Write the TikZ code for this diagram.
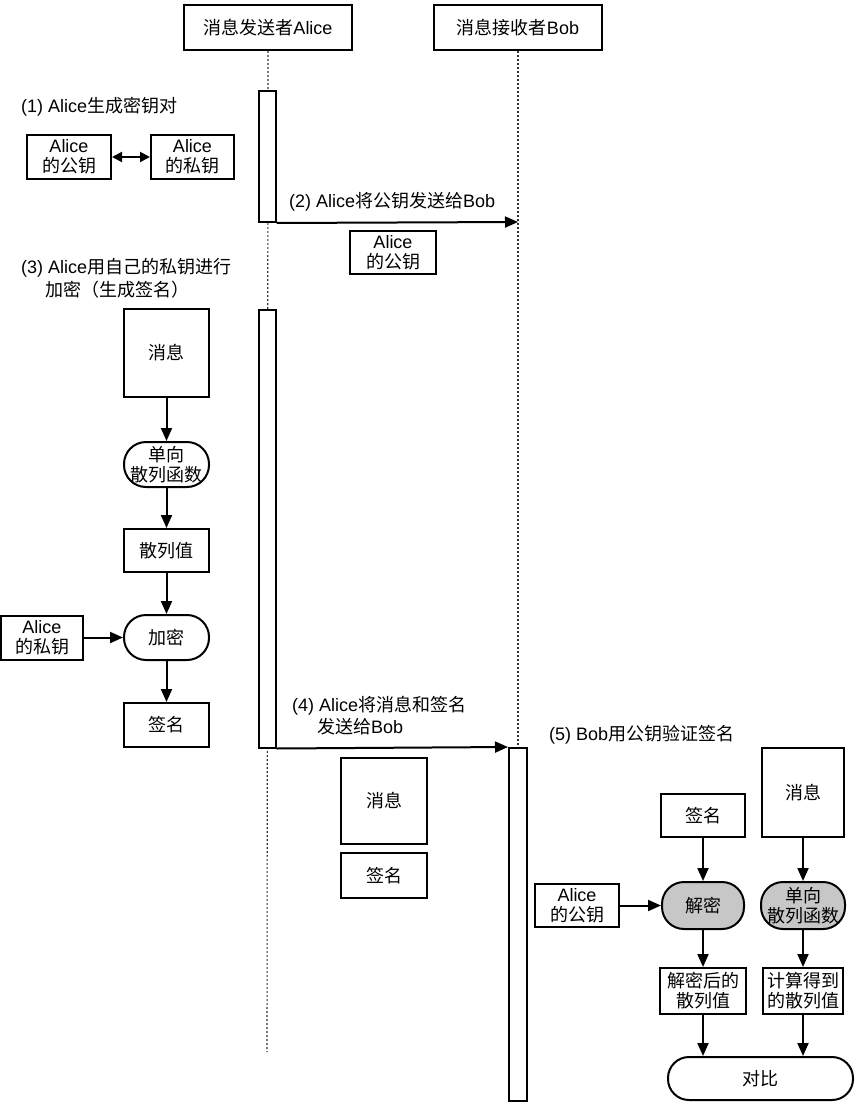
\documentclass[tikz,border=0pt]{standalone}
\usepackage{fontspec}
\setmainfont{Liberation Sans}
\newfontfamily\cjk{Noto Sans CJK SC}
\usetikzlibrary{arrows.meta}
\begin{document}
\begin{tikzpicture}[x=1pt,y=-1pt,
  txt/.style={font=\fontsize{18}{20}\selectfont},
  box/.style={txt, draw, line width=2pt, fill=white, inner sep=2pt, align=center},
  pill/.style={box, rounded corners=22pt},
  gpill/.style={pill, fill=black!22},
  act/.style={draw, line width=2pt, fill=white, minimum width=17pt, inner sep=0pt},
  lbl/.style={txt, inner sep=0pt, anchor=west},
  arr/.style={line width=2pt, -{Triangle[length=13pt,width=11pt]}},
  darr/.style={line width=2pt, {Triangle[length=10pt,width=10pt]}-{Triangle[length=10pt,width=10pt]}},
  life/.style={dash pattern=on 2pt off 2pt, line width=1.1pt, black!80}
]
\useasboundingbox (0,0) rectangle (858,1102);

% headers
\node[box, minimum width=168pt, minimum height=45pt] (hA) at (268,27.5) {{\cjk 消息发送者}Alice};
\node[box, minimum width=168pt, minimum height=45pt] (hB) at (518,27.5) {{\cjk 消息接收者}Bob};

% lifelines
\coordinate (aEnd) at (267,1052);
\coordinate (bMid) at (518,748);
\draw[life] (hA.south) -- (aEnd);
\draw[life] (hB.south) -- (bMid);

% activations
\node[act, minimum height=131pt] (act1) at (267,156.5) {};
\node[act, minimum height=438pt] (act2) at (267,528.5) {};
\node[act, minimum width=18pt, minimum height=353pt] (act3) at (518,924.5) {};

% step 1
\node[lbl] (lab1) at (21,107) {(1) Alice{\cjk 生成密钥对}};
\node[box, minimum width=84pt, minimum height=44pt] (pubA) at (69,157) {Alice\\{\cjk 的公钥}};
\node[box, minimum width=83pt, minimum height=44pt] (privA) at (192.5,157) {Alice\\{\cjk 的私钥}};
\draw[darr] (pubA) -- (privA);

% step 2
\node[lbl] (lab2) at (289,202) {(2) Alice{\cjk 将公钥发送给}Bob};
\coordinate (b2) at (518,222);
\draw[arr] (act1.south east) -- (b2);
\node[box, minimum width=86pt, minimum height=43pt] (pub2) at (393,252.5) {Alice\\{\cjk 的公钥}};

% step 3
\node[lbl] (lab3a) at (21,268) {(3) Alice{\cjk 用自己的私钥进行}};
\node[lbl] (lab3b) at (45,290) {{\cjk 加密（生成签名）}};
\node[box, minimum width=85pt, minimum height=88pt] (msg1) at (166.5,353) {{\cjk 消息}};
\node[pill, minimum width=85pt, minimum height=45pt] (hash1) at (166.5,464.5) {{\cjk 单向}\\{\cjk 散列函数}};
\node[box, minimum width=85pt, minimum height=43pt] (hv1) at (166.5,550.5) {{\cjk 散列值}};
\node[pill, minimum width=85pt, minimum height=45pt] (enc1) at (166.5,637.5) {{\cjk 加密}};
\node[box, minimum width=82pt, minimum height=44pt] (privB) at (42,637.5) {Alice\\{\cjk 的私钥}};
\node[box, minimum width=85pt, minimum height=44pt] (sig1) at (166.5,725) {{\cjk 签名}};
\draw[arr] (msg1) -- (hash1);
\draw[arr] (hash1) -- (hv1);
\draw[arr] (hv1) -- (enc1);
\draw[arr] (privB) -- (enc1);
\draw[arr] (enc1) -- (sig1);

% step 4
\node[lbl] (lab4a) at (292,706) {(4) Alice{\cjk 将消息和签名}};
\node[lbl] (lab4b) at (317,727) {{\cjk 发送给}Bob};
\draw[arr] (act2.south east) -- (act3.north west);
\node[box, minimum width=86pt, minimum height=86pt] (msg2) at (384,801) {{\cjk 消息}};
\node[box, minimum width=86pt, minimum height=45pt] (sig2) at (384,875.5) {{\cjk 签名}};

% step 5
\node[lbl] (lab5) at (549,735) {(5) Bob{\cjk 用公钥验证签名}};
\node[box, minimum width=84pt, minimum height=43pt] (sig3) at (703,815.5) {{\cjk 签名}};
\node[box, minimum width=82pt, minimum height=89pt] (msg3) at (803,792.5) {{\cjk 消息}};
\node[box, minimum width=84pt, minimum height=43pt] (pub3) at (577,905.5) {Alice\\{\cjk 的公钥}};
\node[gpill, minimum width=82pt, minimum height=47pt] (dec) at (703,905.5) {{\cjk 解密}};
\node[gpill, minimum width=84pt, minimum height=47pt] (hash3) at (803,905.5) {{\cjk 单向}\\{\cjk 散列函数}};
\node[box, minimum width=86pt, minimum height=46pt] (dhv) at (703,991) {{\cjk 解密后的}\\{\cjk 散列值}};
\node[box, minimum width=80pt, minimum height=46pt] (chv) at (803,991) {{\cjk 计算得到}\\{\cjk 的散列值}};
\node[pill, rounded corners=21pt, minimum width=185pt, minimum height=43pt] (cmp) at (760.5,1078.5) {{\cjk 对比}};
\draw[arr] (sig3) -- (dec);
\draw[arr] (msg3) -- (hash3);
\draw[arr] (pub3) -- (dec);
\draw[arr] (dec) -- (dhv);
\draw[arr] (hash3) -- (chv);
\draw[arr] (dhv.south) -- (dhv.south |- cmp.north);
\draw[arr] (chv.south) -- (chv.south |- cmp.north);
\end{tikzpicture}
\end{document}
